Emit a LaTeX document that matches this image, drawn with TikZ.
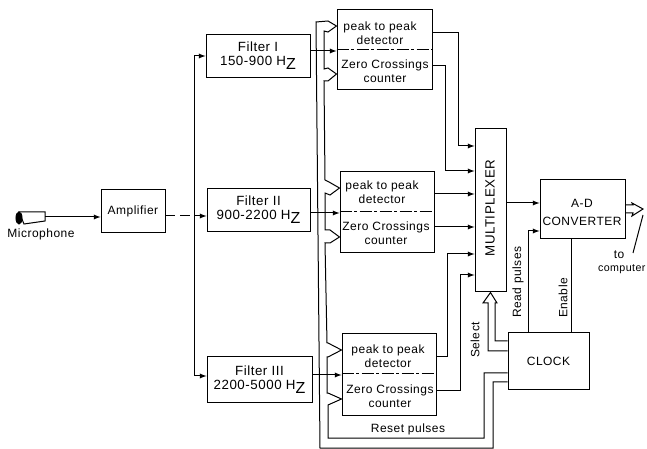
\documentclass[tikz,border=0pt]{standalone}
\usepackage{fontspec}
\setmainfont[LetterSpace=4]{Liberation Sans}
\usetikzlibrary{arrows}
\tikzset{every picture/.style={line width=0.75pt}}
\tikzset{
blockbox/.style={draw, inner sep=0pt, align=center, font=\fontsize{10}{10.5}\selectfont},
labeltext/.style={inner sep=0pt, align=center, font=\fontsize{9}{10.5}\selectfont},
smalltext/.style={inner sep=0pt, align=center, font=\fontsize{9}{10.5}\selectfont},
feed/.style={-latex}
}
\newcommand{\hzunit}{H\raisebox{-3pt}{\fontsize{12}{12}\selectfont Z}}

\begin{document}
\begin{tikzpicture}[x=0.75pt,y=0.75pt,yscale=-1,xscale=1]
\useasboundingbox (0,0) rectangle (647,449);

% Blocks
\node [blockbox, minimum width=48pt, minimum height=32.25pt, font=\fontsize{9}{10.5}\selectfont] (amplifier) at (133,211.5) {Amplifier};
\node [blockbox, minimum width=78pt, minimum height=32.25pt] (filterone) at (258,56) {Filter I\\150-900 \hzunit};
\node [blockbox, minimum width=77.25pt, minimum height=32.25pt] (filtertwo) at (258.5,210) {Filter II\\900-2200 \hzunit};
\node [blockbox, minimum width=78.75pt, minimum height=33.75pt] (filterthree) at (259.5,379.5) {Filter III\\2200-5000 \hzunit};
\node [blockbox, minimum width=71.25pt, minimum height=60pt] (detone) at (384.5,50) {};
\node [blockbox, minimum width=70.5pt, minimum height=60.75pt] (dettwo) at (387,212.5) {};
\node [blockbox, minimum width=70.5pt, minimum height=60.75pt] (detthree) at (389,374.5) {};
\node [blockbox, minimum width=23.25pt, minimum height=122.25pt] (multiplexer) at (490.5,210.5) {};
\node [blockbox, minimum width=63.75pt, minimum height=44.25pt] (converter) at (582.5,209.5) {};
\node [blockbox, minimum width=60.75pt, minimum height=42pt, font=\fontsize{9}{10.5}\selectfont] (clock) at (548.5,361) {CLOCK};

% Text Node
\node [labeltext, rotate=90, font=\fontsize{10}{10.5}\selectfont] (muxlabel) at (490,208) {MULTIPLEXER};
\node [labeltext] (adlabel) at (582,212) {A-D\\[3pt]CONVERTER};
\node [labeltext] (peakone) at (380,33) {peak to peak\\detector};
\node [labeltext] (zeroone) at (385,71) {Zero Crossings\\counter};
\node [labeltext] (peaktwo) at (382,192.5) {peak to peak\\detector};
\node [labeltext] (zerotwo) at (386,233) {Zero Crossings\\counter};
\node [labeltext] (peakthree) at (388,356.5) {peak to peak\\detector};
\node [labeltext] (zerothree) at (390,396.5) {Zero Crossings\\counter};
\node [smalltext] (micname) at (41,234) {Microphone};
\node [smalltext] (tolabel) at (619,255) {to};
\node [smalltext, anchor=east, font=\fontsize{8}{10.5}\selectfont] (complabel) at (646,269) {computer};
\node [labeltext, rotate=90] (selectlabel) at (475,340) {Select};
\node [labeltext, rotate=90] (readlabel) at (518,282) {Read pulses};
\node [labeltext, rotate=90] (enablelabel) at (563,298) {Enable};
\node [labeltext] (resetlabel) at (408,429) {Reset pulses};

% Microphone
\draw (19,212) -- (45,212) -- (45,221) -- (24,224) -- cycle;
\draw [fill=black] (19,218) ellipse (3 and 6);
\coordinate (micout) at (45,217);

% Dash-dot separators
\draw [dash pattern=on 9pt off 2pt on 2pt off 2pt] (detone.west |- 0,50) -- (detone.east |- 0,50);
\draw [dash pattern=on 9pt off 2pt on 2pt off 2pt] (dettwo.west |- 0,212) -- (dettwo.east |- 0,212);
\draw [dash pattern=on 9pt off 2pt on 2pt off 2pt] (detthree.west |- 0,374) -- (detthree.east |- 0,374);

% Input side
\draw [feed] (micout) -- (amplifier.west |- micout);
\coordinate (trunk) at (194,216);
\draw [dash pattern=on 7pt off 4pt] (amplifier.east |- trunk) -- (trunk);
\draw [feed] (trunk) -- (filtertwo.west |- trunk);
\draw [feed] (194,56) -- (filterone.west);
\draw [feed] (194,376) -- (filterthree.west |- 0,376);
\draw (194,56) -- (194,376);

% Filters to detectors
\draw [feed] (filterone.east |- 0,51) -- (detone.west |- 0,51);
\draw [feed] (filtertwo.east |- 0,213) -- (dettwo.west |- 0,213);
\draw [feed] (filterthree.east |- 0,375) -- (detthree.west |- 0,375);

% Detectors to multiplexer
\draw [feed] (detone.east |- 0,33) -- (458,33) -- (458,146) -- (multiplexer.west |- 0,146);
\draw [feed] (detone.east |- 0,66) -- (445,66) -- (445,171) -- (multiplexer.west |- 0,171);
\draw [feed] (dettwo.east |- 0,194) -- (multiplexer.west |- 0,194);
\draw [feed] (dettwo.east |- 0,227) -- (multiplexer.west |- 0,227);
\draw [feed] (detthree.east |- 0,357) -- (447,357) -- (447,254) -- (multiplexer.west |- 0,254);
\draw [feed] (detthree.east |- 0,390) -- (460,390) -- (460,275) -- (multiplexer.west |- 0,275);

% Converter
\draw [feed] (multiplexer.east |- 0,203) -- (converter.west |- 0,203);
\draw [feed] (clock.north -| 528,0) -- (528,231) -- (converter.west |- 0,231);
\draw (clock.north -| 571,0) -- (converter.south -| 571,0);
\draw (converter.east |- 0,205) -- (633,205) -- (632,203) -- (643,209) -- (632,216) -- (633,213) -- (converter.east |- 0,213);
\draw (633,253) -- (643,215);

% Select
\draw (clock.west |- 0,351) -- (488,351) -- (488,303) -- (483,303) -- (multiplexer.south) -- (497,303) -- (495,303) -- (495,341) -- (clock.west |- 0,341);

% Reset pulses
\draw (clock.west |- 0,373) -- (484,373) -- (484,438) -- (328,438) -- (328,405) -- (detthree.west |- 0,399) -- (328,393) -- (327,393) -- (327,357) -- (328,357) -- (detthree.west |- 0,350) -- (328,343) -- (327,343) -- (325,243) -- (330,243) -- (dettwo.west |- 0,237) -- (330,230) -- (325,230) -- (325,193) -- (330,195) -- (dettwo.west |- 0,188) -- (329,182) -- (325,180) -- (324,81) -- (328,81) -- (detone.west |- 0,74) -- (328,68) -- (324,69) -- (324,31) -- (328,32) -- (detone.west |- 0,26) -- (328,21) -- (316,22) -- (320,448) -- (493,448) -- (493,382) -- (clock.west |- 0,382);

\end{tikzpicture}
\end{document}
